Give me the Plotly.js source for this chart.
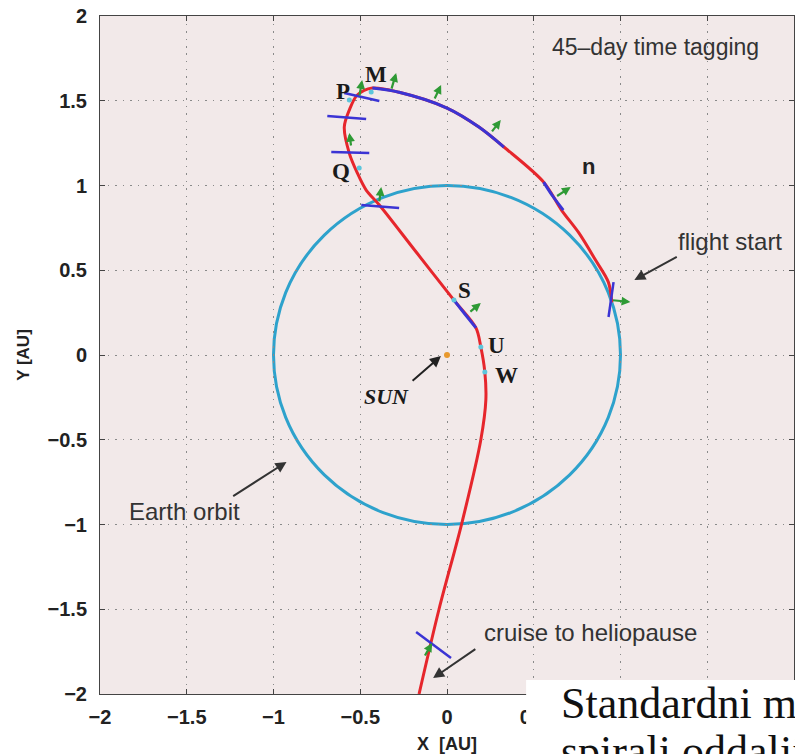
<!DOCTYPE html>
<html>
<head>
<meta charset="utf-8">
<script src="https://cdn.plot.ly/plotly-3.0.1.min.js"></script>
<style>html,body{margin:0;padding:0;background:#fff;overflow:hidden}</style>
</head>
<body>
<div id="chart" style="width:795px;height:754px"></div>
<script>
// ---- data (AU) ----
const trajX = [0.95, 0.93, 0.856, 0.76, 0.66, 0.557, 0.328, 0.184, 0.0, -0.276, -0.43, -0.517, -0.563, -0.592, -0.563, -0.517, -0.466, -0.39, -0.172, 0.04, 0.167, 0.195, 0.218, 0.224, 0.195, 0.086, -0.046, -0.161];
const trajY = [0.31, 0.43, 0.56, 0.72, 0.855, 1.02, 1.227, 1.345, 1.457, 1.55, 1.575, 1.534, 1.445, 1.345, 1.19, 1.074, 0.973, 0.885, 0.6, 0.324, 0.16, 0.047, -0.10, -0.265, -0.50, -0.99, -1.50, -2.0];

// thrust arcs (blue)
const arcAX = [-0.43, -0.276, 0.0, 0.184, 0.328];
const arcAY = [1.575, 1.55, 1.457, 1.345, 1.227];
const arcBX = [0.557, 0.609, 0.67];
const arcBY = [1.02, 0.938, 0.855];
const arcCX = [0.04, 0.103, 0.167];
const arcCY = [0.324, 0.242, 0.16];

// short blue tick segments (start / end)
const tickX0 = [0.96, -0.592, -0.69, -0.667, -0.494, -0.178];
const tickY0 = [0.43, 1.546, 1.41, 1.198, 0.885, -1.634];
const tickX1 = [0.931, -0.39, -0.466, -0.448, -0.276, 0.023];
const tickY1 = [0.224, 1.499, 1.392, 1.192, 0.867, -1.788];

// green direction arrows (base -> tip)
const gBaseX = [-0.506, -0.322, -0.075, 0.253, 0.626, 0.948, -0.552, -0.391, 0.126, -0.132];
const gBaseY = [1.522, 1.563, 1.504, 1.310, 0.932, 0.324, 1.227, 0.897, 0.248, -1.782];
const gTipX  = [-0.489, -0.293, -0.034, 0.310, 0.713, 1.057, -0.563, -0.379, 0.195, -0.086];
const gTipY  = [1.622, 1.664, 1.593, 1.386, 0.991, 0.313, 1.310, 0.991, 0.307, -1.699];

// time-tag points (cyan)
const tagX = [-0.563, -0.437, -0.506, 0.04, 0.195, 0.218];
const tagY = [1.504, 1.552, 1.103, 0.324, 0.047, -0.10];

// point labels
const ptLabels = ['M', 'P', 'Q', 'S', 'U', 'W'];
const ptLabelX = [-0.408, -0.60, -0.609, 0.098, 0.284, 0.341];
const ptLabelY = [1.652, 1.552, 1.080, 0.378, 0.059, -0.118];

const sunX = [0], sunY = [0];
const earthRadius = 1;

// text notes with arrows
const notes = ['flight start', 'Earth orbit', 'cruise to heliopause'];
const noteX = [1.632, -1.511, 0.828];
const noteY = [0.667, -0.926, -1.640];
const noteArrowTailX = [1.333, -1.241, 0.172];
const noteArrowTailY = [0.584, -0.838, -1.729];
const noteArrowHeadX = [1.080, -0.925, -0.080];
const noteArrowHeadY = [0.442, -0.631, -1.906];

const sunLabelX = -0.351, sunLabelY = -0.242;
const sunArrowTail = [-0.207, -0.159];
const sunArrowHead = [-0.035, -0.006];

// tick labels under the white page overlay are hidden in the reference
const tickVals = [-2, -1.5, -1, -0.5, 0, 0.5, 1, 1.5, 2];
const xTickText = ['\u22122', '\u22121.5', '\u22121', '\u22120.5', '0', '0.5', '', '', ''];
const yTickText = ['\u22122', '\u22121.5', '\u22121', '\u22120.5', '0', '0.5', '1', '1.5', '2'];

// ---- traces ----
const RED = '#e6262c', BLUE = '#3b34d4', GREEN = '#2f9a35';
const traces = [];
traces.push({x: trajX, y: trajY, mode: 'lines', line: {color: RED, width: 3, shape: 'spline', smoothing: 0.9}, hoverinfo: 'skip'});
[[arcAX, arcAY], [arcBX, arcBY], [arcCX, arcCY]].forEach(a => {
  traces.push({x: a[0], y: a[1], mode: 'lines', line: {color: BLUE, width: 3, shape: 'spline', smoothing: 0.9}, hoverinfo: 'skip'});
});
const segX = [], segY = [];
for (let i = 0; i < tickX0.length; i++) { segX.push(tickX0[i], tickX1[i], null); segY.push(tickY0[i], tickY1[i], null); }
traces.push({x: segX, y: segY, mode: 'lines', line: {color: BLUE, width: 2.5}, hoverinfo: 'skip'});
traces.push({x: tagX, y: tagY, mode: 'markers', marker: {color: '#5cc6dc', size: 5}, hoverinfo: 'skip'});
traces.push({x: sunX, y: sunY, mode: 'markers', marker: {color: '#e8992e', size: 6}, hoverinfo: 'skip'});

// ---- annotations ----
const ann = [];
for (let i = 0; i < gBaseX.length; i++) {
  ann.push({x: gTipX[i], y: gTipY[i], ax: gBaseX[i], ay: gBaseY[i], xref: 'x', yref: 'y', axref: 'x', ayref: 'y',
    text: '', showarrow: true, arrowhead: 2, arrowsize: 0.8, arrowwidth: 2.2, arrowcolor: GREEN});
}
for (let i = 0; i < ptLabels.length; i++) {
  ann.push({x: ptLabelX[i], y: ptLabelY[i], xref: 'x', yref: 'y', text: ptLabels[i], showarrow: false,
    font: {family: 'Liberation Serif', size: 23, color: '#1a1a1a', weight: 'bold'}});
}
ann.push({x: 0.816, y: 1.115, xref: 'x', yref: 'y', text: 'n', showarrow: false,
  font: {family: 'Liberation Sans', size: 22, color: '#222', weight: 'bold'}});
ann.push({x: sunLabelX, y: sunLabelY, xref: 'x', yref: 'y', text: 'SUN', showarrow: false,
  font: {family: 'Liberation Serif', size: 22, color: '#1a1a1a', weight: 'bold', style: 'italic'}});
ann.push({x: sunArrowHead[0], y: sunArrowHead[1], ax: sunArrowTail[0], ay: sunArrowTail[1], xref: 'x', yref: 'y', axref: 'x', ayref: 'y',
  text: '', showarrow: true, arrowhead: 2, arrowsize: 1.1, arrowwidth: 2, arrowcolor: '#222'});
for (let i = 0; i < notes.length; i++) {
  ann.push({x: noteX[i], y: noteY[i], xref: 'x', yref: 'y', text: notes[i], showarrow: false,
    font: {family: 'Liberation Sans', size: 24, color: '#333'}});
  ann.push({x: noteArrowHeadX[i], y: noteArrowHeadY[i], ax: noteArrowTailX[i], ay: noteArrowTailY[i], xref: 'x', yref: 'y', axref: 'x', ayref: 'y',
    text: '', showarrow: true, arrowhead: 2, arrowsize: 1.1, arrowwidth: 2, arrowcolor: '#333'});
}
ann.push({x: 1.203, y: 1.817, xref: 'x', yref: 'y', text: '45\u2013day time tagging', showarrow: false,
  font: {family: 'Liberation Sans', size: 23, color: '#333'}});
// overlay text from the page under the figure
ann.push({x: 0.662, y: -0.0147, xref: 'paper', yref: 'paper', xanchor: 'left', yanchor: 'middle', text: 'Standardni m', showarrow: false,
  font: {family: 'Liberation Serif', size: 44, color: '#111'}});
ann.push({x: 0.662, y: -0.0855, xref: 'paper', yref: 'paper', xanchor: 'left', yanchor: 'middle', text: 'spirali oddalji', showarrow: false,
  font: {family: 'Liberation Serif', size: 44, color: '#111'}});

const axisCommon = {
  range: [-2, 2], tickvals: tickVals,
  showgrid: true, gridcolor: '#8a8a8a', gridwidth: 1, griddash: '1.5px,6px',
  zeroline: false, showline: true, linecolor: '#444', linewidth: 1, mirror: 'ticks',
  ticks: 'inside', ticklen: 5, tickcolor: '#444',
  tickfont: {family: 'Liberation Sans', size: 20, color: '#222', weight: 'bold'},
  fixedrange: true
};

const layout = {
  width: 795, height: 754,
  margin: {l: 100, r: 1, t: 16, b: 60},
  paper_bgcolor: '#ffffff', plot_bgcolor: '#f2e9e9',
  showlegend: false,
  xaxis: Object.assign({}, axisCommon, {ticktext: xTickText, ticklabelstandoff: 5,
    title: {text: 'X\u00a0 [AU]', standoff: 12, font: {family: 'Liberation Sans', size: 18, color: '#222', weight: 'bold'}}}),
  yaxis: Object.assign({}, axisCommon, {ticktext: yTickText, ticklabelstandoff: 8,
    title: {text: 'Y [AU]', standoff: 13, font: {family: 'Liberation Sans', size: 17, color: '#222', weight: 'bold'}}}),
  shapes: [
    {type: 'circle', xref: 'x', yref: 'y', x0: -earthRadius, x1: earthRadius, y0: -earthRadius, y1: earthRadius,
      line: {color: '#2ea2cc', width: 3}, layer: 'below'},
    {type: 'rect', xref: 'paper', yref: 'paper', x0: 0.614, x1: 1.05, y0: -0.2, y1: 0.0206,
      fillcolor: '#ffffff', line: {width: 0}, layer: 'above'}
  ],
  annotations: ann
};

Plotly.newPlot('chart', traces, layout, {displayModeBar: false, staticPlot: true});
</script>
</body>
</html>
